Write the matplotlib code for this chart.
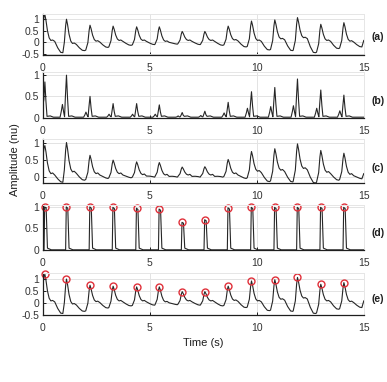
import numpy as np

import matplotlib
matplotlib.use("Agg")
import matplotlib.pyplot as plt # noqa

plt.rcParams['font.family'] = ['Liberation Sans', 'DejaVu Sans']
plt.rcParams['font.size'] = 7.5
plt.rcParams['axes.unicode_minus'] = False

# beat (peak) times in seconds
peak_t = [0.09, 1.10, 2.20, 3.28, 4.38, 5.44, 6.51, 7.57, 8.66, 9.75,
          10.84, 11.90, 12.99, 14.07]

# (a)/(e) raw signal: peak, shoulder after the peak, minimum before next beat
a_peak = [1.20, 1.00, 0.74, 0.70, 0.67, 0.67, 0.47, 0.47, 0.70, 0.92,
          0.97, 1.07, 0.78, 0.85]
a_notch = [0.08, -0.05, 0.05, 0.08, 0.08, 0.04, 0.08, 0.08, 0.10, 0.08,
           0.15, 0.20, 0.08, 0.05]
a_trough = [-0.45, -0.36, -0.22, -0.13, -0.10, -0.08, -0.10, -0.13, -0.20,
            -0.33, -0.36, -0.45, -0.27, -0.20]
a_start, a_end = 0.75, 0.08

# (b) enhanced signal: main peak and the small peak just before it
b_peak = [0.84, 1.00, 0.50, 0.33, 0.33, 0.30, 0.12, 0.15, 0.36, 0.61,
          0.71, 0.91, 0.65, 0.53]
b_pre = [0.00, 0.31, 0.13, 0.08, 0.08, 0.08, 0.04, 0.05, 0.11, 0.22,
         0.26, 0.28, 0.22, 0.16]

# (c) normalised signal
c_peak = [0.91, 1.00, 0.63, 0.49, 0.44, 0.42, 0.29, 0.30, 0.51, 0.74,
          0.82, 0.96, 0.77, 0.69]
c_notch = [0.10, 0.15, 0.10, 0.10, 0.07, 0.06, 0.06, 0.06, 0.10, 0.17,
           0.20, 0.25, 0.14, 0.08]
c_trough = [-0.15, -0.09, -0.04, -0.02, 0.00, 0.00, 0.00, 0.00, -0.04,
            -0.13, -0.14, -0.17, -0.09, -0.05]
c_start, c_end = 0.6, 0.10

# (d) detected pulses
d_peak = [1.00, 1.00, 1.00, 0.99, 0.97, 0.95, 0.64, 0.70, 0.98, 0.99,
          0.99, 0.99, 0.99, 0.99]

panel_names = ['(a)', '(b)', '(c)', '(d)', '(e)']
x_ticks = [0, 5, 10, 15]
T_END = 15


def add_points(t, y, pts):
    for pt, pv in pts:
        if pt > t[-1]:
            t.append(pt)
            y.append(pv)


def wave_trace(peaks, notches, troughs, start, end):
    t, y = [0.0], [start]
    for i, tp in enumerate(peak_t):
        pk, nt, tr = peaks[i], notches[i], troughs[i]
        base = troughs[i - 1] + 0.02 if i > 0 else start
        pts = [(tp - 0.2, base), (tp - 0.1, base + 0.3 * (pk - base)),
               (tp - 0.04, base + 0.8 * (pk - base)), (tp, pk),
               (tp + 0.05, nt + 0.78 * (pk - nt)),
               (tp + 0.12, nt + 0.38 * (pk - nt)),
               (tp + 0.2, nt + 0.1 * (pk - nt)), (tp + 0.28, nt),
               (tp + 0.36, nt + 0.02), (tp + 0.46, nt - 0.04),
               (tp + 0.6, 0.4 * nt + 0.6 * tr), (tp + 0.74, tr + 0.015),
               (tp + 0.84, tr)]
        add_points(t, y, pts)
    t.append(T_END)
    y.append(end)
    return np.array(t), np.array(y)


def peak_trace(peaks, pre):
    t, y = [0.0], [0.3]
    for i, tp in enumerate(peak_t):
        pk, pr = peaks[i], pre[i]
        pts = [(tp - 0.3, 0.01), (tp - 0.24, 0.5 * pr), (tp - 0.19, pr),
               (tp - 0.13, 0.4 * pr), (tp - 0.09, 0.02),
               (tp - 0.05, 0.5 * pk), (tp, pk), (tp + 0.05, 0.45 * pk),
               (tp + 0.1, 0.03), (tp + 0.25, 0.04), (tp + 0.4, 0.01)]
        add_points(t, y, pts)
    t.append(T_END)
    y.append(0.01)
    return np.array(t), np.array(y)


def pulse_trace(heights):
    t, y = [0.0], [0.6]
    for i, tp in enumerate(peak_t):
        h = heights[i]
        pts = [(tp - 0.04, 0.0), (tp - 0.01, h), (tp + 0.06, 0.97 * h),
               (tp + 0.12, 0.04), (tp + 0.3, 0.0)]
        add_points(t, y, pts)
    t.append(T_END)
    y.append(0.0)
    return np.array(t), np.array(y)


ta, ya = wave_trace(a_peak, a_notch, a_trough, a_start, a_end)
tb, yb = peak_trace(b_peak, b_pre)
tc, yc = wave_trace(c_peak, c_notch, c_trough, c_start, c_end)
td, yd = pulse_trace(d_peak)

traces = [(ta, ya), (tb, yb), (tc, yc), (td, yd), (ta, ya)]
ylims = [(-0.55, 1.22), (-0.01, 1.07), (-0.17, 1.10), (0, 1.05),
         (-0.52, 1.25)]
yticks = [[-0.5, 0, 0.5, 1], [0, 0.5, 1], [0, 0.5, 1], [0, 0.5, 1],
          [-0.5, 0, 0.5, 1]]
# axes boxes in figure fractions
rects = [(0.111, 0.856, 0.829, 0.107),
         (0.111, 0.691, 0.829, 0.120),
         (0.111, 0.521, 0.829, 0.115),
         (0.111, 0.346, 0.829, 0.118),
         (0.111, 0.175, 0.829, 0.110)]
label_y = [1 - 37 / 382, 1 - 101 / 382, 1 - 168 / 382, 1 - 233 / 382,
           1 - 299 / 382]


def tick_fmt(v):
    return '%g' % v


fig = plt.figure(figsize=(3.87, 3.82), dpi=100)
axes = []
for k in range(5):
    ax = fig.add_axes(rects[k])
    t, y = traces[k]
    ax.plot(t, y, color='#262626', lw=0.8)
    ax.set_xlim(0, T_END)
    ax.set_ylim(*ylims[k])
    ax.set_xticks(x_ticks)
    ax.set_xticklabels([tick_fmt(v) for v in x_ticks])
    ax.set_yticks(yticks[k])
    ax.set_yticklabels([tick_fmt(v) for v in yticks[k]])
    ax.grid(True, color='#e3e3e3', lw=0.7)
    ax.set_axisbelow(True)
    for s in ['top', 'right']:
        ax.spines[s].set_color('#e6e6e6')
        ax.spines[s].set_linewidth(0.7)
    for s in ['left', 'bottom']:
        ax.spines[s].set_color('#1e1e1e')
        ax.spines[s].set_linewidth(0.9)
    ax.tick_params(direction='in', length=2.5, width=0.7, colors='#1e1e1e',
                   labelcolor='#333333', labelsize=7.5)
    ax.tick_params(axis='x', pad=6)
    ax.tick_params(axis='y', pad=2.5)
    fig.text(0.977, label_y[k], panel_names[k], ha='center', va='center',
             fontweight='bold', fontsize=7.5, color='#1e1e1e')
    axes.append(ax)

# detected peaks
axes[3].plot(peak_t, d_peak, 'o', mfc='none', mec='#e0303a', ms=5, mew=1.0,
             clip_on=False)
axes[4].plot(peak_t, a_peak, 'o', mfc='none', mec='#e0303a', ms=5, mew=1.0,
             clip_on=False)

axes[4].set_xlabel('Time (s)', fontsize=8, color='#1e1e1e', labelpad=3)
fig.text(0.04, 1 - 160 / 382, 'Amplitude (nu)', rotation=90, ha='center',
         va='center', fontsize=8, color='#1e1e1e')

fig.savefig('out.png', dpi=100)
